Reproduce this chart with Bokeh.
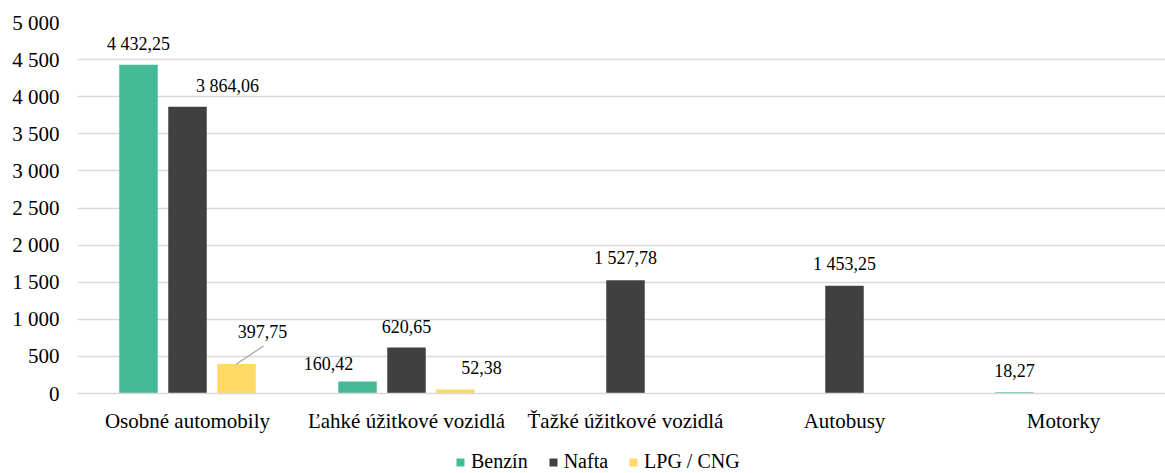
from bokeh.plotting import figure
from bokeh.layouts import column
from bokeh.models import Range1d, FixedTicker, Legend, LegendItem, ColumnDataSource
from bokeh.core.properties import value
from bokeh.embed import file_html
from bokeh.resources import INLINE

# ---- data ----
categories = ["Osobné automobily", "Ľahké úžitkové vozidlá", "Ťažké úžitkové vozidlá", "Autobusy", "Motorky"]
series_names = ["Benzín", "Nafta", "LPG / CNG"]
benzin = [4432.25, 160.42, 0, 0, 18.27]
nafta = [3864.06, 620.65, 1527.78, 1453.25, 0]
lpg = [397.75, 52.38, 0, 0, 0]
y_ticks = [0, 500, 1000, 1500, 2000, 2500, 3000, 3500, 4000, 4500, 5000]
y_tick_labels = ["0", "500", "1 000", "1 500", "2 000", "2 500", "3 000", "3 500", "4 000", "4 500", "5 000"]

# ---- style ----
colors = ["#44BA97", "#404040", "#FFD966"]
FONT = "Liberation Serif"
W, H = 1165, 450
LEG_H = 23
BL, BR, BT, BB = 77, 0, 22, 57
FRAME_W = W - BL - BR
FRAME_H = H - BT - BB
CAT_PX = 219.0
X0 = -110.0 / CAT_PX
X1 = X0 + FRAME_W / CAT_PX
Y_MAX = 5000
PX_Y = FRAME_H / Y_MAX
STEP = 49.0 / CAT_PX
BAR_W = 38.5 / CAT_PX

# label nudges (px; negative = up)
nudges = [
    [(0, -21), (-29, -18), None, None, (0, -22)],
    [(40, -21), (0, -21), (0, -22), (0, -22), None],
    [(26, -32), (26, -22), None, None, None],
]
leader = {(2, 0): (27, -18)}

def fmt(v):
    s = f"{v:,.2f}"
    return s.replace(",", " ").replace(".", ",")

p = figure(width=W, height=H, output_backend="svg", toolbar_location=None,
           x_range=Range1d(X0, X1), y_range=Range1d(0, Y_MAX),
           min_border_left=BL, min_border_right=BR, min_border_top=BT, min_border_bottom=BB)
p.outline_line_color = None
p.background_fill_color = "white"
p.border_fill_color = "white"

all_series = [benzin, nafta, lpg]
for si, vals in enumerate(all_series):
    off = (si - 1) * STEP
    xs = [i + off for i, v in enumerate(vals) if v > 0]
    tops = [v for v in vals if v > 0]
    src = ColumnDataSource(dict(x=xs, top=tops))
    p.vbar(x="x", top="top", width=BAR_W, source=src, fill_color=colors[si], line_color=None)
    lx, ly, lt, dx, dy = [], [], [], [], []
    for i, v in enumerate(vals):
        if v > 0 and nudges[si][i] is not None:
            lx.append(i + off); ly.append(v); lt.append(fmt(v))
            dx.append(nudges[si][i][0]); dy.append(nudges[si][i][1])
            if (si, i) in leader:
                ex, ey = leader[(si, i)]
                p.segment(x0=[i + off], y0=[v], x1=[i + off + ex / CAT_PX], y1=[v - ey / PX_Y],
                          line_color="#a6a6a6", line_width=1.2)
    lsrc = ColumnDataSource(dict(x=lx, y=ly, t=lt, dx=dx, dy=dy))
    p.text(x="x", y="y", text="t", x_offset="dx", y_offset="dy", source=lsrc,
           text_font=value(FONT), text_font_size="18px", text_color="#000000",
           text_align="center", text_baseline="middle")

# axes
p.yaxis.ticker = FixedTicker(ticks=y_ticks)
p.yaxis.major_label_overrides = {t: l for t, l in zip(y_ticks, y_tick_labels)}
p.yaxis.axis_line_color = None
p.yaxis.major_tick_line_color = None
p.yaxis.minor_tick_line_color = None
p.yaxis.major_label_standoff = 12
p.yaxis.major_label_text_font = FONT
p.yaxis.major_label_text_font_size = "21px"
p.yaxis.major_label_text_color = "#000000"

p.xaxis.ticker = FixedTicker(ticks=list(range(len(categories))))
p.xaxis.major_label_overrides = {i: c for i, c in enumerate(categories)}
p.xaxis.axis_line_color = "#d9d9d9"
p.xaxis.axis_line_width = 1.5
p.xaxis.major_tick_line_color = None
p.xaxis.minor_tick_line_color = None
p.xaxis.major_label_standoff = 9
p.xaxis.major_label_text_font = FONT
p.xaxis.major_label_text_font_size = "21px"
p.xaxis.major_label_text_color = "#000000"

p.xgrid.grid_line_color = None
p.ygrid.ticker = FixedTicker(ticks=y_ticks)
p.ygrid.grid_line_color = "#d9d9d9"
p.ygrid.grid_line_width = 1.5

# legend strip (frame aligned with the main plot's frame by the column layout)
pl = figure(width=W, height=LEG_H, output_backend="svg", toolbar_location=None,
            x_range=Range1d(0, 1), y_range=Range1d(0, 1),
            min_border_left=0, min_border_right=0, min_border_top=0, min_border_bottom=0)
pl.axis.visible = False
pl.grid.visible = False
pl.outline_line_color = None
leg_renderers = [pl.vbar(x=[5], top=[1], width=0.1, fill_color=c, line_color=None) for c in colors]
legend = Legend(items=[LegendItem(label=n, renderers=[r]) for n, r in zip(series_names, leg_renderers)],
                orientation="horizontal", location=(378, 0),
                glyph_width=10, glyph_height=10, label_standoff=6, spacing=20, padding=0,
                label_text_font=FONT, label_text_font_size="20px", label_text_color="#000000",
                border_line_color=None, background_fill_alpha=0, margin=0)
pl.add_layout(legend, "center")

layout = column(p, pl, spacing=0)
open("out.html", "w").write(file_html(layout, INLINE))
